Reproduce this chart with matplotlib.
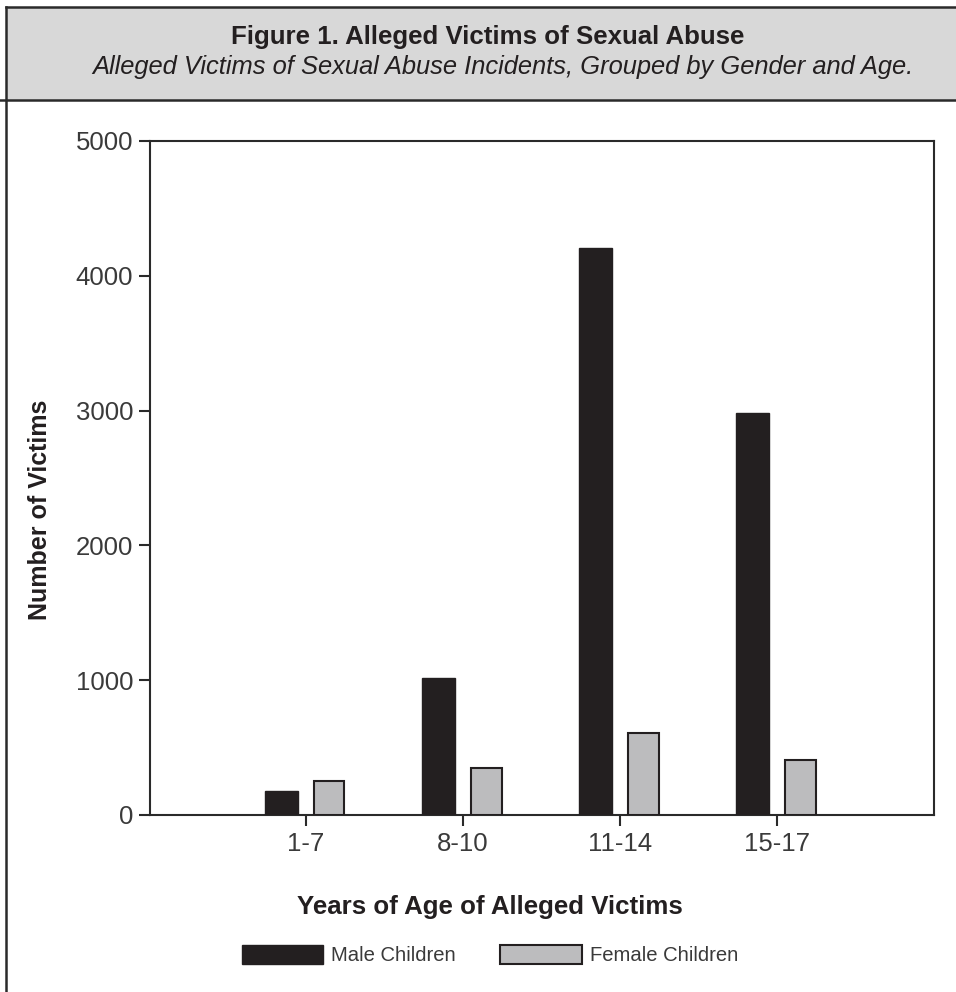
import matplotlib
matplotlib.use("Agg")
import matplotlib.pyplot as plt
import numpy as np
from matplotlib.patches import Rectangle
from matplotlib.lines import Line2D
from matplotlib import font_manager

categories = ["1-7", "8-10", "11-14", "15-17"]
male_values = [175, 1020, 4205, 2985]
female_values = [255, 345, 610, 405]
yticks = [0, 1000, 2000, 3000, 4000, 5000]
series_labels = ["Male Children", "Female Children"]

title_text = "Figure 1. Alleged Victims of Sexual Abuse"
subtitle_text = "Alleged Victims of Sexual Abuse Incidents, Grouped by Gender and Age."
xlabel_text = "Years of Age of Alleged Victims"
ylabel_text = "Number of Victims"

names = {f.name for f in font_manager.fontManager.ttflist}
narrow = "Liberation Sans Narrow" if "Liberation Sans Narrow" in names else "Liberation Sans"
plt.rcParams['font.family'] = ['Liberation Sans', 'DejaVu Sans']

W, H = 956, 992
fig = plt.figure(figsize=(W / 100, H / 100), dpi=100)
fig.patch.set_facecolor("white")

def fx(px):
    return px / W

def fy(py):
    return 1 - py / H

# header box
fig.patches.append(Rectangle((fx(6), fy(100)), 1 - fx(6), fy(7) - fy(100),
                             transform=fig.transFigure, facecolor="#d8d8d8",
                             edgecolor="none", zorder=0))
fig.lines.append(Line2D([fx(6), 1], [fy(7), fy(7)], transform=fig.transFigure,
                        color="#2a2a2a", lw=1.8))
fig.lines.append(Line2D([fx(0), 1], [fy(100), fy(100)], transform=fig.transFigure,
                        color="#2a2a2a", lw=1.8))
fig.lines.append(Line2D([fx(6), fx(6)], [fy(7), 0], transform=fig.transFigure,
                        color="#2a2a2a", lw=1.8))

fig.text(fx(488), fy(37), title_text, ha="center", va="center", fontsize=18.6,
         fontweight="bold", family=[narrow, 'DejaVu Sans'], color="#231f20")
fig.text(fx(503), fy(67), subtitle_text, ha="center", va="center", fontsize=18.4,
         fontstyle="italic", family=[narrow, 'DejaVu Sans'], color="#231f20")

ax = fig.add_axes([fx(150), fy(815), fx(934) - fx(150), fy(141) - fy(815)])
x = np.arange(len(categories))
b1 = ax.bar(x - 0.155, male_values, width=0.21, color="#231f20", edgecolor="#231f20",
            linewidth=1.0, label=series_labels[0], zorder=3)
b2 = ax.bar(x + 0.15, female_values, width=0.195, color="#bcbcbe", edgecolor="#231f20",
            linewidth=1.5, label=series_labels[1], zorder=3)

ax.set_xlim(-0.99, 4.0)
ax.set_ylim(0, 5000)
ax.set_yticks(yticks)
ax.set_yticklabels([str(v) for v in yticks])
ax.set_xticks(x)
ax.set_xticklabels(categories)
for s in ax.spines.values():
    s.set_linewidth(1.5)
    s.set_color("#2a2a2a")
ax.tick_params(axis="both", direction="out", length=8, width=1.5, color="#2a2a2a",
               labelsize=18.5, labelcolor="#3a3a3a", pad=4)

fig.text(fx(40), fy(510), ylabel_text, rotation=90, ha="center", va="center",
         fontsize=18, fontweight="bold", family=[narrow, 'DejaVu Sans'], color="#231f20")
fig.text(fx(490), fy(907), xlabel_text, ha="center", va="center",
         fontsize=18.6, fontweight="bold", family=[narrow, 'DejaVu Sans'], color="#231f20")

leg = fig.legend(handles=[b1, b2], labels=series_labels, loc="center",
                 bbox_to_anchor=(fx(490), fy(955)), ncol=2, frameon=False,
                 fontsize=14.6, handlelength=4.0, handleheight=1.1,
                 handletextpad=0.4, columnspacing=2.2)
for t in leg.get_texts():
    t.set_color("#3a3a3a")

fig.savefig("out.png", dpi=100)
